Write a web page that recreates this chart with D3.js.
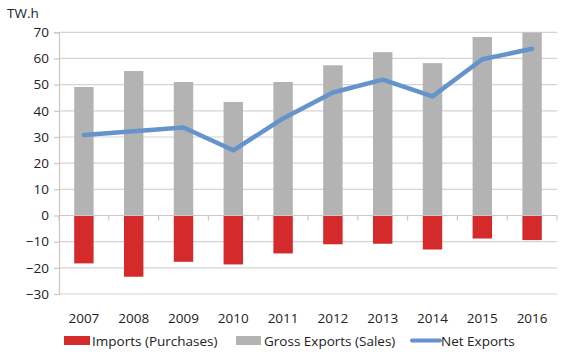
<!DOCTYPE html>
<html><head><meta charset="utf-8">
<script src="https://cdn.jsdelivr.net/npm/d3@7"></script>
<style>body{margin:0;background:#fff}svg{display:block}text{font-family:"Open Sans","Liberation Sans",sans-serif;fill:#222}</style>
</head><body>
<script>
const years = ["2007","2008","2009","2010","2011","2012","2013","2014","2015","2016"];
const imports = [-18.3,-23.4,-17.7,-18.7,-14.5,-11.0,-10.8,-13.0,-8.8,-9.4];
const grossExports = [49.1,55.2,51.0,43.4,51.0,57.4,62.4,58.2,68.2,69.9];
const netExports = [30.8,32.2,33.6,24.9,37.1,47.0,51.9,45.5,59.7,63.7];
const yTicks = [70,60,50,40,30,20,10,0,-10,-20,-30];
const seriesNames = ["Imports (Purchases)","Gross Exports (Sales)","Net Exports"];
const colors = {imp:"#d42a2b", gross:"#b3b3b3", net:"#6593cc"};

const W=574,H=356;
const svg=d3.select("body").append("svg").attr("width",W).attr("height",H);
const L=59,R=557,T=32.3,B=294;
const x=d3.scaleBand().domain(years).range([L,R]).paddingInner(0.61).paddingOuter(0.305);
const xb=d3.scaleBand().domain(years).range([L,R]);
const y=d3.scaleLinear().domain([-30,70]).range([B,T]);

// gridlines
svg.append("g").selectAll("line").data(yTicks).join("line")
 .attr("x1",L).attr("x2",R).attr("y1",d=>y(d)).attr("y2",d=>y(d))
 .attr("stroke","#d4d4d4").attr("stroke-width",1.2);

// y axis
const ya=svg.append("g").attr("transform",`translate(${L},0)`)
 .call(d3.axisLeft(y).tickValues(yTicks).tickSize(5).tickPadding(5).tickFormat(d3.format("d")));
ya.select(".domain").attr("stroke","#c8c8c8").attr("stroke-width",1.2);
ya.selectAll(".tick line").attr("stroke","#c8c8c8").attr("stroke-width",1.2);
ya.selectAll("text").style("font-size","13.5px").attr("fill","#222");

// bars
svg.append("g").selectAll("rect").data(years).join("rect")
 .attr("x",d=>x(d)).attr("width",x.bandwidth())
 .attr("y",(d,i)=>y(grossExports[i])).attr("height",(d,i)=>y(0)-y(grossExports[i]))
 .attr("fill",colors.gross);
svg.append("g").selectAll("rect").data(years).join("rect")
 .attr("x",d=>x(d)).attr("width",x.bandwidth())
 .attr("y",y(0)).attr("height",(d,i)=>y(imports[i])-y(0))
 .attr("fill",colors.imp);

// zero axis with category ticks
svg.append("line").attr("x1",L).attr("x2",R).attr("y1",y(0)).attr("y2",y(0)).attr("stroke","#c8c8c8").attr("stroke-width",1.2);
svg.append("g").selectAll("line").data(years.concat(["end"])).join("line")
 .attr("x1",(d,i)=>L+i*xb.bandwidth()).attr("x2",(d,i)=>L+i*xb.bandwidth())
 .attr("y1",y(0)).attr("y2",y(0)+5).attr("stroke","#c8c8c8").attr("stroke-width",1.2);

// x labels
svg.append("g").selectAll("text").data(years).join("text")
 .attr("x",d=>xb(d)+xb.bandwidth()/2).attr("y",323).attr("text-anchor","middle")
 .style("font-size","13.5px").text(d=>d);

// line
svg.append("path").datum(netExports)
 .attr("d",d3.line().x((d,i)=>xb(years[i])+xb.bandwidth()/2).y(d=>y(d)))
 .attr("fill","none").attr("stroke",colors.net).attr("stroke-width",4.5).attr("stroke-linejoin","round").attr("stroke-linecap","round");

// unit
svg.append("text").attr("x",7).attr("y",18).style("font-size","13.5px").text("TW.h");

// legend
const ly=341;
const lg=svg.append("g");
lg.append("rect").attr("x",64).attr("y",ly-5).attr("width",26).attr("height",9).attr("fill",colors.imp);
lg.append("text").attr("x",92).attr("y",ly+4.5).style("font-size","13.5px").text(seriesNames[0]);
lg.append("rect").attr("x",236).attr("y",ly-5).attr("width",25).attr("height",9).attr("fill",colors.gross);
lg.append("text").attr("x",264).attr("y",ly+4.5).style("font-size","13.5px").text(seriesNames[1]);
lg.append("line").attr("x1",412).attr("x2",440).attr("y1",ly-0.5).attr("y2",ly-0.5).attr("stroke",colors.net).attr("stroke-width",4).attr("stroke-linecap","round");
lg.append("text").attr("x",441).attr("y",ly+4.5).style("font-size","13.5px").text(seriesNames[2]);
</script>
</body></html>
